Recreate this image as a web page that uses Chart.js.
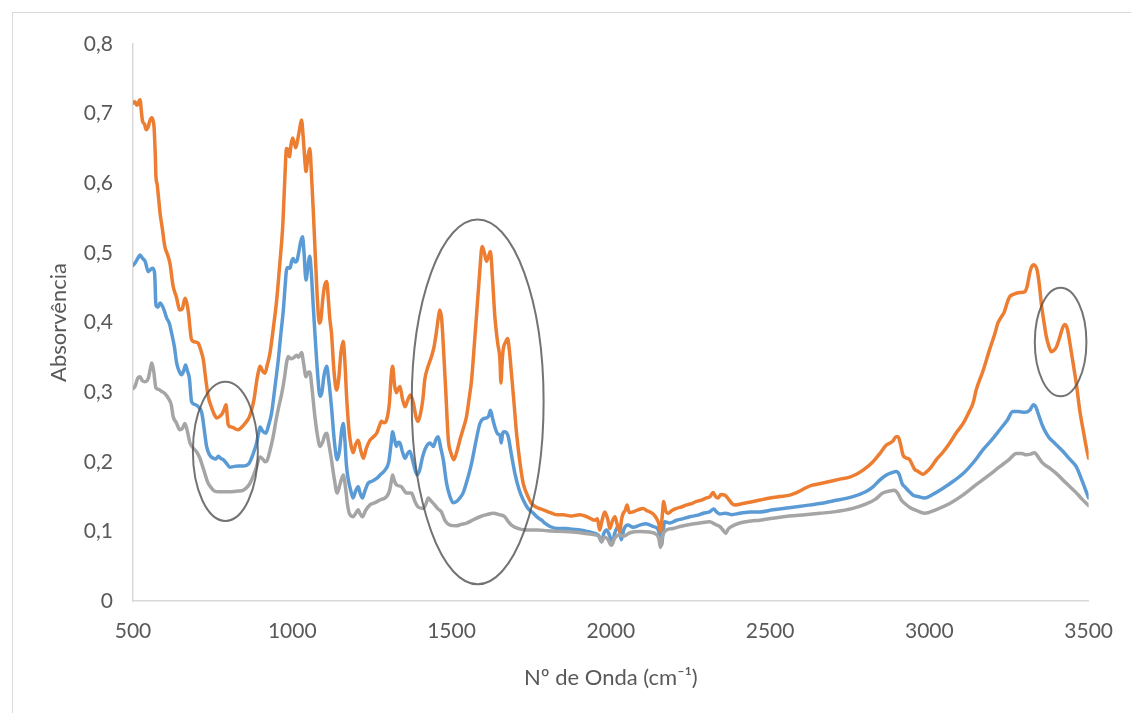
<!DOCTYPE html>
<html>
<head>
<meta charset="utf-8">
<script src="https://cdn.jsdelivr.net/npm/chart.js@4.4.1/dist/chart.umd.min.js"></script>
<style>
  html, body { margin: 0; padding: 0; background: #fff; overflow: hidden; }
  #wrap { position: relative; width: 1131px; height: 713px; }
  #frame { position: absolute; left: 12px; top: 12px; width: 1200px; height: 800px; border: 1px solid #d9d9d9; }
  #chart { position: absolute; left: 0; top: 0; }
</style>
</head>
<body>
<div id="wrap">
  <div id="frame"></div>
  <canvas id="chart" width="1131" height="713"></canvas>
</div>
<script>
// blue series
const waveBlue = [500,506,515,522,530,538,548,555,562,568,572,578,585,595,606,614,621,630,637,645,653,660,665,671,677,684,695,705,716,724,731,740,752,760,768,775,783,795,804,815,830,845,857,865,872,880,888,895,899,907,917,926,935,945,956,964,972,978,982,987,993,998,1003,1008,1014,1020,1026,1032,1037,1043,1049,1055,1060,1065,1071,1079,1087,1093,1100,1108,1115,1123,1132,1141,1148,1155,1160,1165,1170,1176,1184,1191,1199,1207,1213,1220,1228,1238,1250,1265,1278,1291,1303,1310,1315,1321,1327,1333,1338,1346,1354,1362,1369,1380,1392,1400,1408,1416,1424,1431,1437,1443,1451,1458,1466,1474,1484,1495,1505,1516,1526,1536,1550,1563,1576,1589,1600,1610,1617,1622,1629,1636,1645,1652,1656,1660,1665,1672,1678,1688,1699,1712,1725,1740,1757,1770,1783,1795,1809,1835,1860,1880,1903,1925,1950,1962,1971,1978,1987,1996,2005,2012,2023,2028,2033,2041,2054,2070,2091,2110,2133,2148,2154,2159,2164,2169,2185,2206,2225,2248,2270,2290,2310,2323,2332,2342,2360,2379,2405,2440,2468,2509,2560,2610,2656,2700,2760,2800,2823,2845,2865,2880,2896,2905,2915,2923,2935,2949,2965,2985,3010,3043,3075,3106,3140,3168,3195,3221,3245,3262,3280,3299,3315,3327,3335,3341,3355,3368,3377,3395,3419,3440,3461,3475,3490,3500];
const absBlue = [0.482,0.485,0.492,0.497,0.492,0.488,0.473,0.476,0.478,0.470,0.425,0.422,0.428,0.421,0.406,0.399,0.385,0.365,0.342,0.330,0.325,0.332,0.339,0.330,0.320,0.286,0.282,0.279,0.270,0.245,0.222,0.210,0.205,0.204,0.208,0.205,0.203,0.197,0.192,0.193,0.194,0.194,0.195,0.198,0.205,0.215,0.227,0.243,0.250,0.244,0.241,0.253,0.270,0.305,0.346,0.383,0.418,0.455,0.476,0.479,0.478,0.488,0.492,0.487,0.488,0.500,0.515,0.523,0.500,0.461,0.480,0.495,0.470,0.430,0.385,0.330,0.294,0.300,0.325,0.337,0.315,0.279,0.230,0.203,0.215,0.245,0.255,0.232,0.195,0.174,0.158,0.148,0.158,0.164,0.155,0.148,0.158,0.169,0.172,0.176,0.182,0.188,0.200,0.225,0.243,0.232,0.222,0.228,0.227,0.214,0.205,0.212,0.215,0.198,0.181,0.188,0.205,0.217,0.224,0.227,0.225,0.222,0.232,0.236,0.220,0.203,0.170,0.150,0.141,0.143,0.148,0.155,0.175,0.198,0.228,0.255,0.262,0.263,0.266,0.274,0.262,0.250,0.240,0.238,0.227,0.240,0.243,0.242,0.236,0.210,0.183,0.160,0.145,0.133,0.126,0.120,0.116,0.111,0.107,0.104,0.104,0.103,0.102,0.100,0.097,0.094,0.085,0.097,0.102,0.094,0.083,0.097,0.107,0.100,0.088,0.103,0.109,0.106,0.109,0.111,0.107,0.103,0.094,0.080,0.098,0.114,0.112,0.116,0.118,0.121,0.123,0.126,0.128,0.132,0.128,0.125,0.126,0.124,0.126,0.128,0.128,0.131,0.134,0.137,0.140,0.144,0.150,0.157,0.164,0.174,0.181,0.184,0.186,0.182,0.168,0.164,0.158,0.152,0.150,0.148,0.153,0.162,0.172,0.183,0.200,0.217,0.231,0.246,0.260,0.272,0.272,0.271,0.274,0.282,0.278,0.270,0.252,0.240,0.234,0.226,0.215,0.204,0.193,0.178,0.160,0.148];

// orange series
const waveOrange = [500,506,512,522,527,530,536,541,547,553,559,563,566,570,572,576,580,585,592,600,608,616,626,636,647,655,663,668,674,684,695,705,713,721,728,736,745,755,763,772,781,786,792,796,799,807,815,822,830,840,850,857,865,872,880,888,894,899,907,914,922,930,940,951,960,970,976,982,987,991,996,1001,1006,1011,1016,1022,1029,1034,1040,1043,1049,1055,1060,1066,1071,1078,1085,1090,1095,1101,1108,1113,1118,1123,1131,1139,1146,1153,1160,1165,1171,1179,1185,1191,1199,1207,1214,1223,1233,1244,1255,1265,1274,1280,1288,1296,1305,1310,1315,1321,1327,1333,1338,1346,1354,1362,1371,1380,1388,1395,1403,1410,1416,1425,1437,1445,1452,1458,1463,1469,1475,1482,1490,1498,1507,1517,1526,1537,1547,1555,1563,1571,1579,1588,1596,1603,1610,1616,1622,1629,1636,1645,1652,1655,1659,1662,1670,1676,1682,1688,1696,1704,1715,1725,1738,1751,1770,1788,1810,1830,1850,1875,1903,1925,1950,1958,1965,1972,1981,1990,1997,2005,2013,2020,2028,2034,2039,2045,2051,2058,2070,2085,2102,2112,2122,2133,2143,2150,2156,2161,2166,2172,2180,2192,2206,2222,2238,2254,2269,2285,2300,2312,2321,2329,2337,2345,2358,2370,2380,2389,2405,2426,2447,2468,2500,2530,2562,2590,2614,2630,2651,2680,2719,2750,2771,2795,2823,2845,2865,2884,2896,2902,2910,2917,2925,2938,2947,2954,2965,2980,2990,3005,3022,3043,3064,3085,3106,3125,3137,3147,3168,3189,3205,3215,3226,3236,3244,3252,3262,3273,3285,3299,3307,3315,3321,3327,3333,3338,3345,3352,3360,3367,3375,3383,3391,3399,3410,3418,3425,3431,3435,3443,3451,3462,3472,3485,3492,3500];
const absOrange = [0.715,0.717,0.712,0.720,0.700,0.689,0.685,0.677,0.680,0.690,0.694,0.690,0.681,0.640,0.610,0.598,0.580,0.557,0.535,0.509,0.498,0.485,0.452,0.437,0.418,0.420,0.435,0.430,0.414,0.375,0.372,0.370,0.360,0.346,0.320,0.294,0.280,0.268,0.263,0.265,0.270,0.275,0.282,0.265,0.253,0.250,0.249,0.247,0.246,0.249,0.254,0.258,0.264,0.274,0.290,0.315,0.330,0.337,0.330,0.327,0.340,0.356,0.390,0.432,0.480,0.538,0.600,0.650,0.648,0.638,0.655,0.665,0.658,0.651,0.660,0.675,0.691,0.668,0.630,0.617,0.638,0.650,0.615,0.560,0.509,0.440,0.399,0.405,0.430,0.452,0.459,0.435,0.405,0.385,0.330,0.303,0.320,0.358,0.373,0.345,0.290,0.241,0.222,0.213,0.225,0.231,0.218,0.205,0.220,0.231,0.236,0.241,0.252,0.258,0.256,0.260,0.285,0.320,0.337,0.310,0.299,0.305,0.308,0.290,0.279,0.288,0.296,0.285,0.265,0.258,0.270,0.290,0.318,0.335,0.351,0.365,0.385,0.405,0.418,0.405,0.360,0.300,0.231,0.213,0.203,0.215,0.231,0.248,0.265,0.290,0.318,0.365,0.414,0.470,0.509,0.500,0.488,0.495,0.502,0.460,0.408,0.370,0.346,0.313,0.345,0.361,0.372,0.377,0.358,0.327,0.285,0.241,0.198,0.169,0.152,0.140,0.134,0.131,0.127,0.124,0.124,0.122,0.124,0.121,0.116,0.118,0.102,0.115,0.128,0.118,0.104,0.115,0.121,0.110,0.100,0.118,0.126,0.130,0.138,0.127,0.128,0.131,0.133,0.130,0.128,0.125,0.119,0.112,0.100,0.120,0.143,0.130,0.126,0.130,0.133,0.135,0.138,0.140,0.143,0.145,0.148,0.150,0.156,0.150,0.148,0.153,0.152,0.146,0.140,0.138,0.139,0.141,0.143,0.145,0.148,0.150,0.152,0.157,0.163,0.166,0.168,0.171,0.175,0.178,0.182,0.189,0.200,0.212,0.224,0.229,0.236,0.236,0.224,0.210,0.206,0.203,0.195,0.189,0.186,0.182,0.185,0.192,0.203,0.214,0.227,0.242,0.255,0.272,0.284,0.303,0.330,0.361,0.383,0.399,0.408,0.416,0.428,0.437,0.440,0.442,0.443,0.444,0.452,0.471,0.480,0.483,0.481,0.476,0.455,0.425,0.400,0.380,0.366,0.358,0.360,0.365,0.380,0.392,0.397,0.394,0.387,0.365,0.342,0.310,0.274,0.240,0.222,0.205];

// gray series
const waveGray = [500,506,515,522,530,538,548,555,559,565,572,580,590,600,611,620,626,636,647,655,663,670,679,690,700,710,721,735,745,755,770,790,810,830,845,857,867,878,888,894,899,907,914,920,930,940,950,958,967,976,982,987,995,1003,1014,1020,1029,1036,1043,1049,1055,1062,1071,1079,1087,1095,1102,1108,1115,1123,1132,1141,1150,1160,1168,1173,1179,1191,1199,1207,1213,1220,1230,1244,1258,1275,1296,1305,1311,1315,1321,1327,1343,1352,1359,1374,1385,1395,1411,1420,1427,1433,1447,1458,1468,1480,1495,1515,1530,1547,1570,1589,1610,1631,1650,1667,1678,1688,1710,1735,1770,1800,1840,1880,1920,1950,1962,1971,1980,1990,2002,2012,2028,2040,2060,2091,2120,2145,2151,2156,2162,2175,2195,2217,2248,2279,2310,2328,2342,2352,2361,2368,2379,2405,2440,2468,2509,2560,2610,2656,2700,2760,2800,2830,2854,2875,2891,2900,2912,2923,2940,2959,2985,3020,3064,3105,3147,3185,3221,3250,3273,3290,3304,3318,3330,3343,3356,3380,3399,3430,3460,3480,3500];
const absGray = [0.305,0.308,0.320,0.322,0.316,0.315,0.320,0.335,0.342,0.330,0.306,0.304,0.301,0.298,0.291,0.282,0.265,0.256,0.246,0.248,0.255,0.245,0.227,0.219,0.214,0.205,0.190,0.170,0.163,0.158,0.157,0.157,0.157,0.158,0.159,0.163,0.169,0.180,0.193,0.203,0.207,0.204,0.200,0.201,0.216,0.236,0.262,0.280,0.298,0.322,0.342,0.351,0.348,0.349,0.353,0.350,0.357,0.340,0.322,0.328,0.329,0.305,0.265,0.238,0.222,0.228,0.238,0.241,0.225,0.203,0.175,0.155,0.168,0.181,0.160,0.140,0.126,0.121,0.126,0.131,0.125,0.121,0.130,0.138,0.141,0.145,0.150,0.158,0.172,0.181,0.172,0.167,0.164,0.158,0.155,0.155,0.143,0.135,0.133,0.140,0.148,0.145,0.138,0.132,0.128,0.115,0.109,0.108,0.110,0.112,0.117,0.121,0.124,0.126,0.124,0.121,0.114,0.109,0.104,0.102,0.102,0.101,0.100,0.099,0.097,0.095,0.093,0.085,0.092,0.089,0.080,0.090,0.095,0.093,0.098,0.100,0.099,0.095,0.089,0.077,0.093,0.102,0.104,0.107,0.110,0.112,0.114,0.110,0.107,0.102,0.097,0.103,0.107,0.112,0.115,0.116,0.119,0.122,0.124,0.126,0.128,0.133,0.139,0.146,0.155,0.158,0.159,0.155,0.145,0.140,0.134,0.130,0.126,0.131,0.140,0.152,0.167,0.180,0.193,0.203,0.212,0.212,0.210,0.211,0.213,0.206,0.198,0.190,0.183,0.169,0.156,0.146,0.137];

// circled regions: centre and radii in data units
const highlights = [
  { x: 790, y: 0.215, rx: 102, ry: 0.100 },
  { x: 1582, y: 0.286, rx: 207, ry: 0.262 },
  { x: 3412, y: 0.372, rx: 81, ry: 0.078 }
];

const xTicks = [500, 1000, 1500, 2000, 2500, 3000, 3500];

function pairs(xs, ys) {
  return xs.map((x, i) => ({ x: x, y: ys[i] }));
}

const ellipsePlugin = {
  id: "ellipses",
  afterDatasetsDraw(chart) {
    const ctx = chart.ctx;
    const xs = chart.scales.x;
    const ys = chart.scales.y;
    ctx.save();
    ctx.strokeStyle = "rgba(80,80,80,0.8)";
    ctx.lineWidth = 2;
    highlights.forEach(h => {
      const cx = xs.getPixelForValue(h.x);
      const cy = ys.getPixelForValue(h.y);
      const rx = Math.abs(xs.getPixelForValue(h.x + h.rx) - cx);
      const ry = Math.abs(ys.getPixelForValue(h.y + h.ry) - cy);
      ctx.beginPath();
      ctx.ellipse(cx, cy, rx, ry, 0, 0, Math.PI * 2);
      ctx.stroke();
    });
    ctx.restore();
  }
};

const font = "Lato, 'Open Sans', sans-serif";
const textColor = "#595959";

new Chart(document.getElementById("chart"), {
  type: "line",
  data: {
    datasets: [
      { label: "Série 1", data: pairs(waveBlue, absBlue), borderColor: "#5b9bd5", order: 3 },
      { label: "Série 2", data: pairs(waveOrange, absOrange), borderColor: "#ed7d31", order: 2 },
      { label: "Série 3", data: pairs(waveGray, absGray), borderColor: "#a5a5a5", order: 1 }
    ]
  },
  options: {
    responsive: false,
    animation: false,
    datasets: {
      line: {
        borderWidth: 3.5,
        pointRadius: 0,
        fill: false,
        cubicInterpolationMode: "monotone",
        borderJoinStyle: "round",
        borderCapStyle: "round"
      }
    },
    layout: { padding: { top: 44, right: 42, bottom: 0, left: 0 } },
    plugins: {
      legend: { display: false },
      tooltip: { enabled: false }
    },
    scales: {
      x: {
        type: "linear",
        min: 500,
        max: 3500,
        afterFit: s => { s.height = 112; },
        afterBuildTicks: s => { s.ticks = xTicks.map(v => ({ value: v })); },
        grid: { display: false, drawTicks: false },
        border: { display: true, color: "#d9d9d9", width: 1.5 },
        ticks: {
          color: textColor,
          font: { family: font, size: 21 },
          padding: 18,
          maxRotation: 0,
          callback: v => String(v)
        },
        title: {
          display: true,
          text: "Nº de Onda (cm⁻¹)",
          color: textColor,
          font: { family: font, size: 22 },
          padding: { top: 0, bottom: 22 }
        }
      },
      y: {
        min: 0,
        max: 0.8,
        afterFit: s => { s.width = 133; },
        grid: { display: false, drawTicks: false },
        border: { display: true, color: "#d9d9d9", width: 1.5 },
        ticks: {
          stepSize: 0.1,
          color: textColor,
          font: { family: font, size: 21 },
          padding: 20,
          callback: v => v === 0 ? "0" : (Math.round(v * 10) / 10).toFixed(1).replace(".", ",")
        },
        title: {
          display: true,
          text: "Absorvência",
          color: textColor,
          font: { family: font, size: 22 },
          padding: { top: 46, bottom: 0 }
        }
      }
    }
  },
  plugins: [ellipsePlugin]
});
</script>
</body>
</html>
